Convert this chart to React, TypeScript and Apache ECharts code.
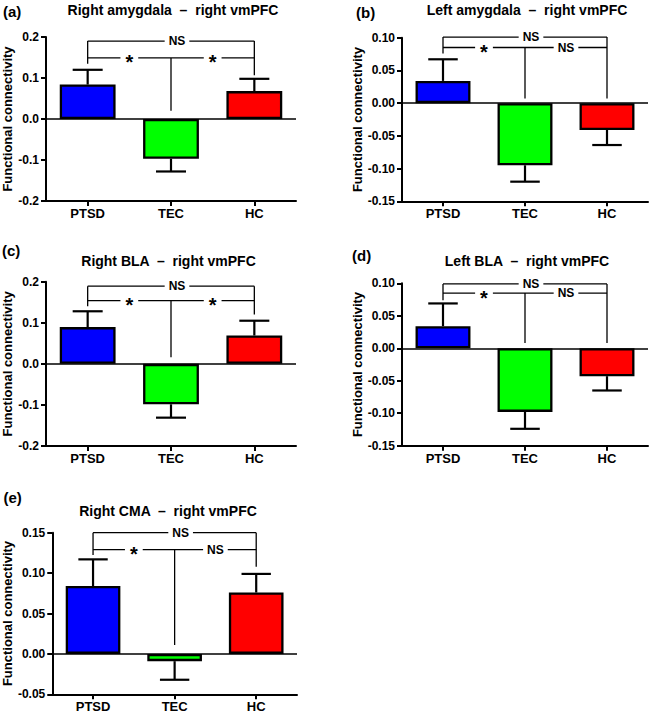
import React, { useEffect, useRef } from "react";
import * as echarts from "echarts";

// ---------- data ----------
const categories = ["PTSD", "TEC", "HC"];
const barColors = ["#0000FF", "#00FF00", "#FF0000"];
const panelLetters = ["(a)", "(b)", "(c)", "(d)", "(e)"];
const panelTitles = [
  "Right amygdala  \u2013  right vmPFC",
  "Left amygdala  \u2013  right vmPFC",
  "Right BLA  \u2013  right vmPFC",
  "Left BLA  \u2013  right vmPFC",
  "Right CMA  \u2013  right vmPFC",
];
const yAxisName = "Functional connectivity";

// means and error-bar ends (one-sided SEM)
const meansA = [0.084, -0.097, 0.068];
const errEndA = [0.12, -0.128, 0.098];
const meansB = [0.034, -0.095, -0.041];
const errEndB = [0.067, -0.12, -0.064];
const meansC = [0.0895, -0.0985, 0.069];
const errEndC = [0.128, -0.131, 0.105];
const meansD = [0.034, -0.098, -0.043];
const errEndD = [0.069, -0.124, -0.065];
const meansE = [0.084, -0.009, 0.076];
const errEndE = [0.117, -0.032, 0.099];

// y axis ranges
const yMin = [-0.2, -0.15, -0.2, -0.15, -0.05];
const yMax = [0.2, 0.1, 0.2, 0.1, 0.15];
const yInterval = [0.1, 0.05, 0.1, 0.05, 0.05];
const yDecimals = [1, 2, 1, 2, 2];

// significance brackets: [top line, middle line, PTSD drop end, TEC drop end, HC drop end]
const bracketA = [0.19, 0.149, 0.135, 0.02, 0.107];
const bracketB = [0.101, 0.085, 0.076, 0.007, 0.007];
const bracketC = [0.189, 0.154, 0.14, 0.016, 0.12];
const bracketD = [0.099, 0.085, 0.074, 0.008, 0.008];
const bracketE = [0.15, 0.129, 0.1225, 0.011, 0.108];
// labels: [top, PTSD-TEC, TEC-HC]
const sigLabelsA = ["NS", "*", "*"];
const sigLabelsB = ["NS", "*", "NS"];
const sigLabelsC = ["NS", "*", "*"];
const sigLabelsD = ["NS", "*", "NS"];
const sigLabelsE = ["NS", "*", "NS"];

const allMeans = [meansA, meansB, meansC, meansD, meansE];
const allErrEnds = [errEndA, errEndB, errEndC, errEndD, errEndE];
const allBrackets = [bracketA, bracketB, bracketC, bracketD, bracketE];
const allSigLabels = [sigLabelsA, sigLabelsB, sigLabelsC, sigLabelsD, sigLabelsE];

// ---------- layout ----------
const FONT = "Liberation Sans, Arial, Helvetica, sans-serif";
const grids = [
  { left: 46, top: 37, width: 250, height: 164, nameGap: 29 },
  { left: 402, top: 37.7, width: 246, height: 163.6, nameGap: 33 },
  { left: 46, top: 281.7, width: 250, height: 164.3, nameGap: 29 },
  { left: 402, top: 283.3, width: 246, height: 162.4, nameGap: 33 },
  { left: 50, top: 532.7, width: 247, height: 161.6, nameGap: 33 },
];
const titlePos = [
  { x: 173, y: 9.5 },
  { x: 527, y: 10 },
  { x: 168.5, y: 261 },
  { x: 527, y: 261 },
  { x: 168, y: 511 },
];
const letterPos = [
  { x: 3, y: 11 },
  { x: 356, y: 12.5 },
  { x: 2, y: 250.5 },
  { x: 352, y: 255.5 },
  { x: 3.5, y: 497.5 },
];

export default function App() {
  const ref = useRef<HTMLDivElement>(null);
  useEffect(() => {
    if (!ref.current) return;
    const chart = echarts.init(ref.current, undefined, { renderer: "svg" });

    const gridOpt: any[] = [];
    const xAxes: any[] = [];
    const yAxes: any[] = [];
    const series: any[] = [];
    const graphics: any[] = [];

    for (let i = 0; i < 5; i++) {
      const g = grids[i];
      gridOpt.push({ left: g.left, top: g.top, width: g.width, height: g.height });
      xAxes.push({
        type: "category",
        gridIndex: i,
        data: categories,
        axisLine: { onZero: false, lineStyle: { color: "#000", width: 2 } },
        axisTick: { show: true, alignWithLabel: true, length: 5, lineStyle: { color: "#000", width: 2 } },
        axisLabel: { color: "#000", fontFamily: FONT, fontWeight: "bold", fontSize: 13, margin: 6 },
        splitLine: { show: false },
      });
      const dec = yDecimals[i];
      yAxes.push({
        type: "value",
        gridIndex: i,
        min: yMin[i],
        max: yMax[i],
        interval: yInterval[i],
        name: yAxisName,
        nameLocation: "middle",
        nameGap: g.nameGap,
        nameTextStyle: { color: "#000", fontFamily: FONT, fontWeight: "bold", fontSize: 13 },
        axisLine: { show: true, lineStyle: { color: "#000", width: 2 } },
        axisTick: { show: true, length: 5, lineStyle: { color: "#000", width: 2 } },
        axisLabel: {
          color: "#000",
          fontFamily: FONT,
          fontWeight: "bold",
          fontSize: 12,
          margin: 7,
          formatter: (v: number) => v.toFixed(dec),
        },
        splitLine: { show: false },
      });

      series.push({
        type: "bar",
        xAxisIndex: i,
        yAxisIndex: i,
        barWidth: "67%",
        z: 2,
        data: allMeans[i].map((v, k) => ({
          value: v,
          itemStyle: { color: barColors[k], borderColor: "#000", borderWidth: 2.3 },
        })),
        markLine: {
          silent: true,
          symbol: ["none", "none"],
          label: { show: false },
          lineStyle: { color: "#000", width: 1.5, type: "solid" },
          data: [{ yAxis: 0 }],
        },
      });

      // error bars
      series.push({
        type: "custom",
        xAxisIndex: i,
        yAxisIndex: i,
        z: 3,
        data: allMeans[i].map((m, k) => [k, m, allErrEnds[i][k]]),
        renderItem: (params: any, api: any) => {
          const k = api.value(0);
          const p0 = api.coord([k, api.value(1)]);
          const p1 = api.coord([k, api.value(2)]);
          const half = api.size([1, 0])[0] * 0.18;
          const style = { stroke: "#000", lineWidth: 2.2, fill: "none" };
          return {
            type: "group",
            children: [
              { type: "line", shape: { x1: p0[0], y1: p0[1], x2: p1[0], y2: p1[1] }, style },
              { type: "line", shape: { x1: p1[0] - half, y1: p1[1], x2: p1[0] + half, y2: p1[1] }, style },
            ],
          };
        },
      });

      // significance brackets
      const labels = allSigLabels[i];
      series.push({
        type: "custom",
        xAxisIndex: i,
        yAxisIndex: i,
        z: 4,
        data: [allBrackets[i]],
        renderItem: (params: any, api: any) => {
          const top = api.value(0);
          const mid = api.value(1);
          const pEnd = api.value(2);
          const tEnd = api.value(3);
          const hEnd = api.value(4);
          const a = api.coord([0, top]);
          const b = api.coord([2, top]);
          const m0 = api.coord([0, mid]);
          const m2 = api.coord([2, mid]);
          const tc = api.coord([1, mid]);
          const pe = api.coord([0, pEnd]);
          const te = api.coord([1, tEnd]);
          const he = api.coord([2, hEnd]);
          const ls = { stroke: "#000", lineWidth: 1.3, fill: "none" };
          const mkText = (txt: string, x: number, y: number) => {
            const star = txt === "*";
            return {
              type: "text",
              x,
              y: star ? y + 4.5 : y,
              z2: 10,
              style: {
                text: txt,
                fill: "#000",
                fontFamily: FONT,
                fontWeight: "bold",
                fontSize: star ? 20 : 12,
                textAlign: "center",
                textVerticalAlign: "middle",
                backgroundColor: "#fff",
                padding: star ? [-3, 5, -3, 5] : [0, 4, 0, 4],
              },
            };
          };
          return {
            type: "group",
            children: [
              { type: "line", shape: { x1: a[0], y1: a[1], x2: b[0], y2: b[1] }, style: ls },
              { type: "line", shape: { x1: a[0], y1: a[1], x2: pe[0], y2: pe[1] }, style: ls },
              { type: "line", shape: { x1: b[0], y1: b[1], x2: he[0], y2: he[1] }, style: ls },
              { type: "line", shape: { x1: m0[0], y1: m0[1], x2: m2[0], y2: m2[1] }, style: ls },
              { type: "line", shape: { x1: tc[0], y1: tc[1], x2: te[0], y2: te[1] }, style: ls },
              mkText(labels[0], (a[0] + b[0]) / 2 + 6, a[1]),
              mkText(labels[1], (m0[0] + tc[0]) / 2, m0[1]),
              mkText(labels[2], (tc[0] + m2[0]) / 2, m0[1]),
            ],
          };
        },
      });

      graphics.push({
        type: "text",
        x: titlePos[i].x,
        y: titlePos[i].y,
        style: {
          text: panelTitles[i],
          fill: "#000",
          fontFamily: FONT,
          fontWeight: "bold",
          fontSize: 14,
          textAlign: "center",
          textVerticalAlign: "middle",
        },
      });
      graphics.push({
        type: "text",
        x: letterPos[i].x,
        y: letterPos[i].y,
        style: {
          text: panelLetters[i],
          fill: "#000",
          fontFamily: FONT,
          fontWeight: "bold",
          fontSize: 15,
          textAlign: "left",
          textVerticalAlign: "middle",
        },
      });
    }

    chart.setOption({
      animation: false,
      backgroundColor: "#fff",
      grid: gridOpt,
      xAxis: xAxes,
      yAxis: yAxes,
      series,
      graphic: graphics,
    });
    return () => chart.dispose();
  }, []);

  return (
    <div
      ref={ref}
      style={{ position: "fixed", left: 0, top: 0, width: 651, height: 714, background: "#fff" }}
    />
  );
}
